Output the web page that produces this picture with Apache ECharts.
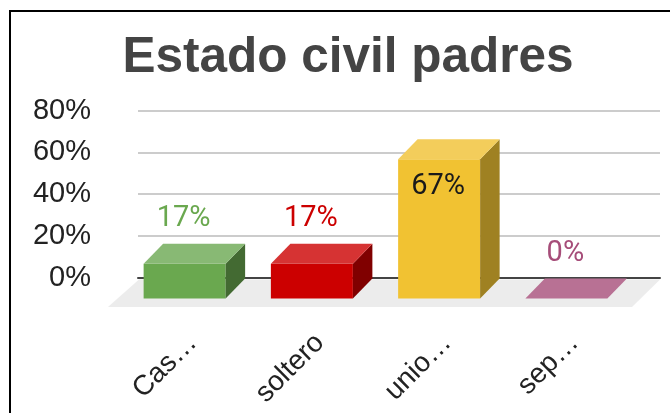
<!DOCTYPE html>
<html>
<head>
<meta charset="utf-8">
<title>Estado civil padres</title>
<script src="https://cdn.jsdelivr.net/npm/echarts@6/dist/echarts.min.js"></script>
<style>
  html, body { margin: 0; padding: 0; background: #fff; }
  #chart { width: 670px; height: 413px; }
</style>
</head>
<body>
<div id="chart"></div>
<script>
const categories = ['Cas…', 'soltero', 'unio…', 'sep…'];
const values = [16.67, 16.67, 66.67, 0];
const yTicks = [0, 20, 40, 60, 80];

const frontColors = ['#6aa84f', '#cc0000', '#f1c232', '#a64d79'];
const topColors = ['#88b974', '#d63333', '#f3cd5b', '#b87194'];
const sideColors = ['#436a32', '#800000', '#9f8122', '#6b3150'];
const labelColors = ['#6aa84f', '#cc0000', '#1a1a1a', '#a64d79'];

const barWidth = 82;
const depthX = 19.5;
const depthY = 20;
const barShift = -8; // bars sit left of the tick labels' anchor

let chart = echarts.init(document.getElementById('chart'));

function poly(points, color) {
  return { type: 'polygon', shape: { points: points }, style: { fill: color } };
}

function renderBar(params, api) {
  let i = api.value(0);
  let v = api.value(1);
  let top = api.coord([i, v]);
  let base = api.coord([i, 0]);
  let x0 = top[0] + barShift - barWidth / 2;
  let x1 = x0 + barWidth;
  let yT = top[1];
  let yB = base[1];
  let children = [];
  if (yB - yT > 0.5) {
    children.push(poly([[x0, yT], [x1, yT], [x1, yB], [x0, yB]], frontColors[i]));
    children.push(poly([[x1, yT], [x1 + depthX, yT - depthY], [x1 + depthX, yB - depthY], [x1, yB]], sideColors[i]));
  }
  children.push(poly([[x0, yT], [x1, yT], [x1 + depthX, yT - depthY], [x0 + depthX, yT - depthY]], topColors[i]));
  let inside = v > 50;
  children.push({
    type: 'text',
    style: {
      text: Math.round(v) + '%',
      x: x0 + barWidth / 2 - 1,
      y: inside ? yT + 27 : yT - 45,
      align: 'center',
      verticalAlign: 'middle',
      fill: labelColors[i],
      font: '29px Roboto',
      stroke: inside ? null : '#fff',
      lineWidth: inside ? 0 : 3,
    },
  });
  return { type: 'group', children: children };
}

function renderFloor(params, api) {
  let c = params.coordSys;
  let bottom = c.y + c.height + 8.5;
  let top = c.y + c.height - 19;
  return poly([
    [c.x - 21, bottom],
    [c.x + 10, top],
    [c.x + 531, top],
    [c.x + 503, bottom],
  ], '#ececec');
}

chart.setOption({
  backgroundColor: '#fff',
  animation: false,
  title: {
    text: 'Estado civil padres',
    left: 343,
    top: 28,
    textAlign: 'center',
    textStyle: { color: '#444444', fontFamily: 'Liberation Sans', fontWeight: 'bold', fontSize: 49.5 },
  },
  graphic: [
    {
      type: 'polyline',
      shape: { points: [[10, 413], [10, 11], [670, 11]] },
      style: { stroke: '#000', lineWidth: 2, fill: null },
    },
  ],
  grid: [
    { left: 138, right: 10, top: 110.5, height: 167 },
    { left: 129, width: 509, top: 131.5, height: 167 },
  ],
  xAxis: [
    {
      gridIndex: 0,
      type: 'category',
      data: categories,
      axisLine: { show: true, onZero: true, lineStyle: { color: '#444444', width: 2 } },
      axisTick: { show: false },
      axisLabel: { show: false },
    },
    {
      gridIndex: 1,
      type: 'category',
      data: categories,
      axisLine: { show: false },
      axisTick: { show: false },
      axisLabel: {
        rotate: 45,
        margin: 40,
        interval: 0,
        color: '#222222',
        fontFamily: 'Liberation Sans',
        fontSize: 28,
      },
    },
  ],
  yAxis: [
    {
      gridIndex: 0,
      type: 'value',
      min: 0,
      max: 80,
      interval: 20,
      axisLine: { show: false },
      axisTick: { show: false },
      axisLabel: {
        margin: 47,
        color: '#222222',
        fontFamily: 'Liberation Sans',
        fontSize: 29,
        formatter: (v) => (yTicks.includes(v) ? v + '%' : ''),
      },
      splitLine: { lineStyle: { color: '#cccccc', width: 2 } },
    },
    {
      gridIndex: 1,
      type: 'value',
      min: 0,
      max: 80,
      interval: 20,
      axisLine: { show: false },
      axisTick: { show: false },
      axisLabel: { show: false },
      splitLine: { show: false },
    },
  ],
  series: [
    {
      type: 'custom',
      xAxisIndex: 1,
      yAxisIndex: 1,
      z: 1,
      silent: true,
      renderItem: renderFloor,
      data: [[0, 0]],
      clip: false,
    },
    {
      type: 'custom',
      xAxisIndex: 1,
      yAxisIndex: 1,
      z: 3,
      renderItem: renderBar,
      encode: { x: 0, y: 1 },
      data: values.map((v, i) => [i, v]),
      clip: false,
    },
  ],
});
</script>
</body>
</html>
